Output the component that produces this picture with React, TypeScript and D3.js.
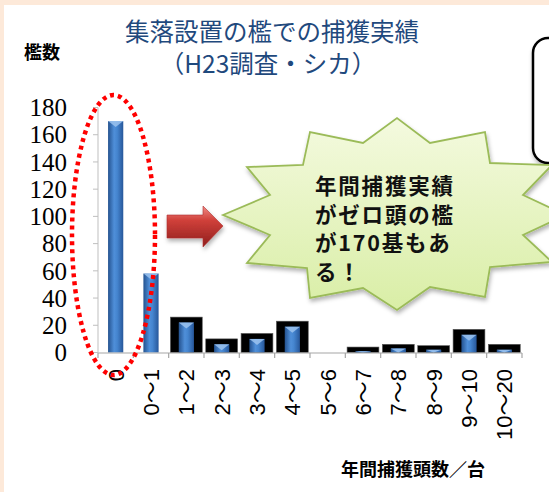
import * as React from 'react';
import * as d3 from 'd3';

// chart data
const categories = ['0', '0～1', '1～2', '2～3', '3～4', '4～5', '5～6', '6～7', '7～8', '8～9', '9～10', '10～20'];
const totalValues = [0, 0, 26, 10, 14, 23, 0, 4, 6, 5, 17, 6]; // black boxes
const catchValues = [170, 58, 22, 6, 10, 19, 0, 1, 3, 2, 13, 2]; // blue columns
const yTicks = [0, 20, 40, 60, 80, 100, 120, 140, 160, 180];

const titleLines = ['集落設置の檻での捕獲実績', '（H23調査・シカ）'];
const calloutLines = ['年間捕獲実績', 'がゼロ頭の檻', 'が170基もあ', 'る！'];

const W = 549;
const H = 492;
const CJK = '"Noto Sans CJK JP", "Noto Sans", sans-serif';

// starburst outline (annotation shape, not data)
const burst: [number, number][] = [
  [223, 215], [270, 195], [247, 167], [303, 165], [310, 132], [363, 143],
  [397, 118], [430, 143], [485, 132], [490, 163], [552, 165], [523, 195],
  [566, 215], [523, 235], [552, 262], [490, 267], [485, 297], [430, 287],
  [397, 310], [363, 288], [310, 298], [307, 268], [247, 263], [270, 235],
];

export default function App() {
  const x = d3.scaleBand<string>().domain(categories).range([98, 522]);
  const y = d3.scaleLinear().domain([0, 180]).range([352.5, 107.5]);
  const step = x.step();
  const blackW = step * 0.9;
  const blueW = step * 0.43;
  const burstPath = d3.line()(burst) + 'Z';

  return (
    <div style={{ position: 'absolute', left: 0, top: 0 }}>
      <svg width={W} height={H} style={{ display: 'block' }}>
        <defs>
          <linearGradient id="blue" x1="0" x2="1" y1="0" y2="0">
            <stop offset="0%" stopColor="#24528f" />
            <stop offset="40%" stopColor="#4f8fd9" />
            <stop offset="60%" stopColor="#4585cf" />
            <stop offset="100%" stopColor="#27579a" />
          </linearGradient>
          <linearGradient id="red" x1="0" x2="0" y1="0" y2="1">
            <stop offset="0%" stopColor="#f08a84" />
            <stop offset="35%" stopColor="#d0403a" />
            <stop offset="100%" stopColor="#8e1e1c" />
          </linearGradient>
          <linearGradient id="green" x1="0" x2="0" y1="0" y2="1">
            <stop offset="0%" stopColor="#f4fadf" />
            <stop offset="100%" stopColor="#d9eea6" />
          </linearGradient>
          <filter id="shadow" x="-20%" y="-20%" width="140%" height="140%">
            <feDropShadow dx="1" dy="3" stdDeviation="2" floodColor="#000" floodOpacity="0.3" />
          </filter>
        </defs>

        {/* background */}
        <rect x={0} y={0} width={W} height={H} fill="#fde9d9" />
        <rect x={4} y={5} width={W - 4} height={H - 5} fill="#ffffff" />

        {/* rounded box at right edge */}
        <rect x={533} y={38} width={60} height={125} rx={15} fill="#fff" stroke="#000" strokeWidth={2.5} filter="url(#shadow)" />

        {/* title */}
        <g fontFamily={CJK} fill="#1f497d" textAnchor="middle" fontSize={24.5}>
          <text x={272} y={41}>{titleLines[0]}</text>
          <text x={268} y={73}>{titleLines[1]}</text>
        </g>
        <text x={42} y={59} fontFamily={CJK} fontWeight="bold" fontSize={18} textAnchor="middle">檻数</text>

        {/* y axis */}
        <line x1={98} x2={98} y1={y(180)} y2={y(0)} stroke="#bfbfbf" />
        {yTicks.map((t) => (
          <g key={t}>
            <line x1={93} x2={98} y1={y(t)} y2={y(t)} stroke="#bfbfbf" />
            <text x={67} y={y(t)} dy="0.35em" textAnchor="end" fontFamily='"Liberation Serif", serif' fontSize={25} fill="#000">{t}</text>
          </g>
        ))}

        {/* bars */}
        {categories.map((c, i) => {
          const cx = (x(c) as number) + step / 2;
          const tv = totalValues[i];
          const bv = catchValues[i];
          const tri = Math.min(6, y(0) - y(bv));
          return (
            <g key={c}>
              {tv > 0 && (
                <rect x={cx - blackW / 2} y={y(tv)} width={blackW} height={y(0) - y(tv)} fill="#000" stroke="#555" strokeWidth={0.6} />
              )}
              {bv > 0 && (
                <g>
                  <rect x={cx - blueW / 2} y={y(bv)} width={blueW} height={y(0) - y(bv)} fill="url(#blue)" />
                  <path d={`M${cx - blueW / 2},${y(bv)}L${cx + blueW / 2},${y(bv)}L${cx},${y(bv) + tri}Z`} fill="#9cc3ef" opacity={0.85} />
                </g>
              )}
            </g>
          );
        })}

        {/* x axis */}
        <line x1={98} x2={522} y1={353} y2={353} stroke="#a6a6a6" strokeWidth={1.2} />
        {d3.range(categories.length + 1).map((i) => (
          <line key={i} x1={98 + i * step} x2={98 + i * step} y1={353} y2={358} stroke="#a6a6a6" strokeWidth={1.2} />
        ))}
        {categories.map((c) => {
          const cx = (x(c) as number) + step / 2;
          return (
            <text key={c} transform={`translate(${cx},369) rotate(-90)`} dy="0.36em" textAnchor="end"
              fontFamily='"Liberation Sans", Arial, "Noto Sans CJK JP", sans-serif' fontSize={22} fill="#000">{c}</text>
          );
        })}
        <text x={413} y={476} fontFamily={CJK} fontWeight="bold" fontSize={18} textAnchor="middle">年間捕獲頭数／台</text>

        {/* red dotted ellipse */}
        <ellipse cx={113.5} cy={235} rx={41.5} ry={140} fill="none" stroke="#ff0000" strokeWidth={4.5} strokeDasharray="4 4" />

        {/* red arrow */}
        <path d="M167,215L203,215L203,206L223,226L203,247L203,238L167,238Z" fill="url(#red)" stroke="#b03030" strokeWidth={0.6} filter="url(#shadow)" />

        {/* starburst callout */}
        <path d={burstPath} fill="url(#green)" stroke="#9bbb59" strokeWidth={1.8} filter="url(#shadow)" />
        <g fontFamily={CJK} fontWeight="bold" fontSize={21.5} fill="#111" letterSpacing={1.8}>
          {calloutLines.map((l, i) => (
            <text key={i} x={315} y={194 + i * 28.5}>{l}</text>
          ))}
        </g>
      </svg>
    </div>
  );
}
